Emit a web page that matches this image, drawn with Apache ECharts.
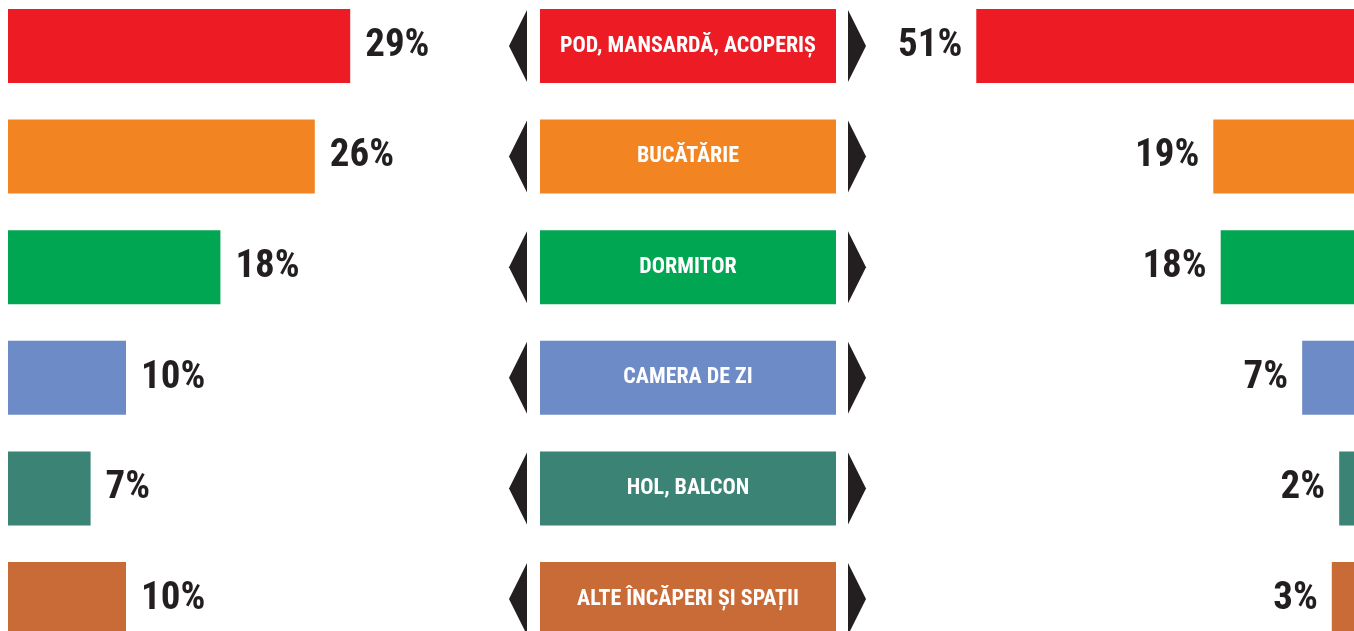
<!DOCTYPE html>
<html>
<head>
<meta charset="utf-8">
<script src="https://cdn.jsdelivr.net/npm/echarts@6/dist/echarts.min.js"></script>
<style>
  html, body { margin: 0; padding: 0; background: #fff; }
  #chart { width: 1354px; height: 631px; }
</style>
</head>
<body>
<div id="chart"></div>
<script>
// camere, procente stanga / dreapta
var rooms = ['POD, MANSARDĂ, ACOPERIȘ', 'BUCĂTĂRIE', 'DORMITOR', 'CAMERA DE ZI', 'HOL, BALCON', 'ALTE ÎNCĂPERI ȘI SPAȚII'];
var leftValues = [29, 26, 18, 10, 7, 10];
var rightValues = [51, 19, 18, 7, 2, 3];
var roomColors = ['#ED1C24', '#F28522', '#00A651', '#6D8BC7', '#3B8374', '#C96B37'];

var condensed = '"Roboto Condensed", "Liberation Sans Narrow", "DejaVu Sans Condensed", sans-serif';

var numFont = {
  fontFamily: condensed,
  fontWeight: 'bold',
  fontSize: 39,
  color: '#231F20'
};

function coloured(values) {
  return values.map(function (v, i) {
    return { value: v, itemStyle: { color: roomColors[i] } };
  });
}

var chart = echarts.init(document.getElementById('chart'));

// centrele randurilor: primul la 46px, pas ~110.6px
var gridTop = 46, gridHeight = 553;

function catAxis(idx) {
  return { gridIndex: idx, type: 'category', data: rooms, inverse: true, boundaryGap: false, show: false };
}

chart.setOption({
  animation: false,
  backgroundColor: '#fff',
  grid: [
    { left: 8, width: 472, top: gridTop, height: gridHeight },
    { left: 540, width: 296, top: gridTop, height: gridHeight },
    { left: 880, right: 0, top: gridTop, height: gridHeight }
  ],
  xAxis: [
    { gridIndex: 0, type: 'value', min: 0, max: 40, show: false },
    { gridIndex: 1, type: 'value', min: 0, max: 1, show: false },
    { gridIndex: 2, type: 'value', min: 0, max: 64, inverse: true, show: false }
  ],
  yAxis: [catAxis(0), catAxis(1), catAxis(2)],
  series: [
    {
      type: 'bar',
      xAxisIndex: 0, yAxisIndex: 0,
      barWidth: 74,
      data: coloured(leftValues),
      label: Object.assign({ show: true, position: 'right', distance: 15, formatter: '{c}%' }, numFont)
    },
    {
      type: 'bar',
      xAxisIndex: 1, yAxisIndex: 1,
      barWidth: 74,
      data: coloured(rooms.map(function () { return 1; })),
      label: {
        show: true,
        position: 'inside',
        formatter: '{b}',
        color: '#fff',
        fontFamily: condensed,
        fontWeight: 'bold',
        fontSize: 22
      }
    },
    {
      // sagetile negre de langa etichete
      type: 'custom',
      xAxisIndex: 1, yAxisIndex: 1,
      data: rooms.map(function (r, i) { return [0, i]; }),
      renderItem: function (params, api) {
        var c = api.coord([0, api.value(1)]);
        var x0 = params.coordSys.x;
        var x1 = x0 + params.coordSys.width;
        var cy = c[1], h = 36;
        return {
          type: 'group',
          children: [
            { type: 'polygon', shape: { points: [[x0 - 31, cy], [x0 - 13, cy - h], [x0 - 13, cy + h]] }, style: { fill: '#231F20' } },
            { type: 'polygon', shape: { points: [[x1 + 30, cy], [x1 + 12, cy - h], [x1 + 12, cy + h]] }, style: { fill: '#231F20' } }
          ]
        };
      }
    },
    {
      type: 'bar',
      xAxisIndex: 2, yAxisIndex: 2,
      barWidth: 74,
      data: coloured(rightValues),
      label: Object.assign({ show: true, position: 'left', distance: 14, formatter: '{c}%' }, numFont)
    }
  ]
});
</script>
</body>
</html>
